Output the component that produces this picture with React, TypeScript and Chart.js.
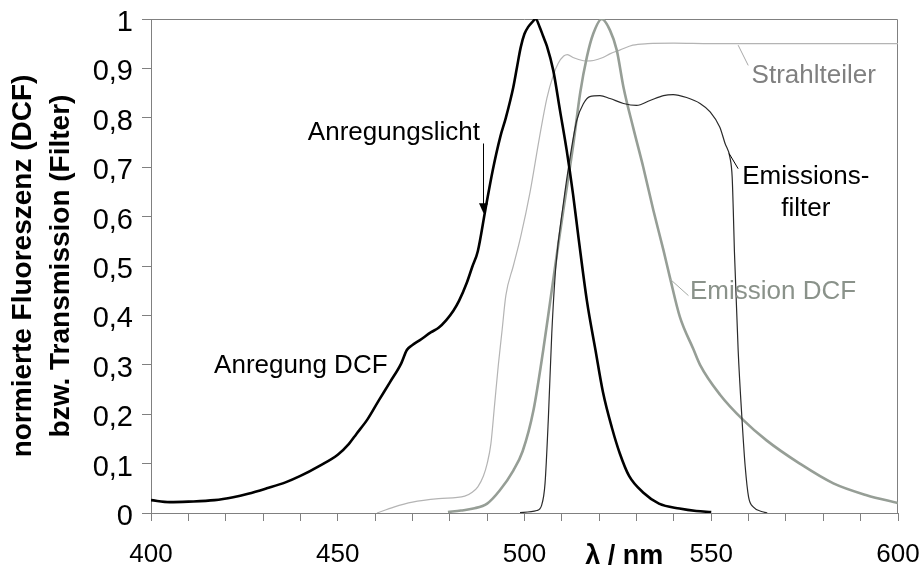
import React, { useEffect, useRef } from 'react';
import { Chart, registerables } from 'chart.js';

Chart.register(...registerables);

// ---------- data (wavelength in nm, normalised value) ----------
const excitationNm = [400, 405, 410, 417, 422, 426, 431, 436, 440, 445, 450, 453, 455, 458, 461, 464, 467, 468.5, 470, 472, 475, 477, 479, 481, 482.5, 484.5, 486, 487.5, 489.5, 491.5, 493.5, 495, 497, 498, 499, 500, 501, 502, 503, 504, 505, 506, 507.7, 509.5, 511.3, 513, 514.5, 516.7, 519, 521, 523.5, 525.5, 528, 532, 536, 541.5, 546, 550];
const excitationVal = [0.026, 0.022, 0.023, 0.026, 0.032, 0.039, 0.05, 0.062, 0.075, 0.095, 0.118, 0.14, 0.16, 0.19, 0.228, 0.265, 0.303, 0.33, 0.34, 0.35, 0.366, 0.375, 0.39, 0.41, 0.43, 0.465, 0.498, 0.53, 0.613, 0.694, 0.761, 0.8, 0.862, 0.903, 0.943, 0.97, 0.984, 0.993, 1.0, 0.985, 0.965, 0.945, 0.896, 0.815, 0.734, 0.645, 0.555, 0.43, 0.33, 0.245, 0.17, 0.121, 0.075, 0.04, 0.019, 0.009, 0.004, 0.002];

const splitterNm = [460.5, 465, 470, 477, 484, 486, 487.5, 489, 490, 491, 492, 493, 494, 495, 497, 499, 501.5, 504, 506, 507.7, 509, 510.5, 511.5, 513, 514.5, 516.5, 518.5, 521, 523, 525.5, 529, 533, 540, 550, 600];
const splitterVal = [0, 0.012, 0.022, 0.029, 0.034, 0.042, 0.053, 0.075, 0.1, 0.14, 0.22, 0.3, 0.37, 0.44, 0.5, 0.56, 0.65, 0.76, 0.84, 0.886, 0.91, 0.925, 0.928, 0.922, 0.918, 0.915, 0.916, 0.922, 0.93, 0.937, 0.947, 0.95, 0.951, 0.95, 0.95];

const emissionNm = [479.5, 483, 486.3, 490, 493.4, 497, 499.5, 502.4, 505, 506.8, 508.4, 510.4, 513.1, 514.9, 516.7, 518.4, 520.7, 522.9, 524.7, 526.5, 529.1, 531.8, 534.5, 537.2, 538.9, 541.6, 545.2, 547, 552.3, 558.6, 564.8, 573.7, 582.7, 591.6, 600];
const emissionVal = [0.002, 0.005, 0.009, 0.019, 0.046, 0.086, 0.125, 0.208, 0.329, 0.424, 0.51, 0.613, 0.748, 0.85, 0.923, 0.97, 1.0, 0.977, 0.937, 0.862, 0.78, 0.7, 0.613, 0.532, 0.478, 0.397, 0.332, 0.3, 0.24, 0.188, 0.147, 0.1, 0.06, 0.036, 0.02];

const filterNm = [498.8, 503.3, 504.6, 505.5, 506.4, 507.3, 508.4, 510.4, 512.2, 514, 515.8, 517.5, 520.2, 522.9, 526.5, 530, 533.6, 537.2, 539.8, 543.4, 547, 549.7, 552.3, 553.7, 555, 555.6, 555.9, 556.2, 557.2, 558.2, 559.1, 560, 561.3, 564, 565];
const filterVal = [0.001, 0.005, 0.016, 0.06, 0.194, 0.363, 0.5, 0.626, 0.72, 0.795, 0.829, 0.843, 0.845, 0.839, 0.829, 0.825, 0.835, 0.845, 0.847, 0.841, 0.829, 0.812, 0.781, 0.748, 0.72, 0.68, 0.613, 0.53, 0.33, 0.194, 0.093, 0.032, 0.012, 0.002, 0];

const xMin = 400;
const xMax = 600;
const xStep = 10;
const xLabelEvery = 50;
const yTitleLines = ['normierte Fluoreszenz (DCF)', 'bzw. Transmission (Filter)'];
const xTitle = 'λ / nm';
const xTitleAt = 526.7;

// annotation texts, anchored in data units
const annotationTexts = ['Anregungslicht', 'Anregung DCF', 'Strahlteiler', 'Emissions-', 'filter', 'Emission DCF'];
const annotationNm = [442.0, 416.9, 560.8, 575.3, 575.3, 544.3];
const annotationVal = [0.769, 0.297, 0.885, 0.68, 0.616, 0.447];
const annotationAlign = ['left', 'left', 'left', 'center', 'center', 'left'];
const annotationColor = ['#000000', '#000000', '#808080', '#000000', '#000000', '#8a928a'];

// leader lines [nm1, val1, nm2, val2]
const leaderLines = [
  [557.2, 0.947, 559.9, 0.906],
  [554.8, 0.7275, 557.2, 0.697],
  [538.9, 0.474, 543.9, 0.44],
];
const leaderColors = ['#a8a8a8', '#000000', '#a4aaa4'];
const laserNm = 489;
const laserArrowFrom = 0.748;
const laserArrowTo = 0.607;

const SANS = '"Liberation Sans", Arial, Helvetica, sans-serif';
const AXIS_COLOR = '#808080';

const toPoints = (xs: number[], ys: number[]) => xs.map((x, i) => ({ x, y: ys[i] }));

const zeroPadding = (s: any) => {
  s.paddingTop = 0;
  s.paddingBottom = 0;
  s.paddingLeft = 0;
  s.paddingRight = 0;
};

const overlayPlugin = {
  id: 'overlay',
  beforeDatasetsDraw(chart: any) {
    const { ctx, chartArea: a } = chart;
    ctx.save();
    ctx.strokeStyle = AXIS_COLOR;
    ctx.lineWidth = 1;
    const top = Math.round(a.top) + 0.5;
    const right = Math.round(a.right) - 0.5;
    ctx.beginPath();
    ctx.moveTo(a.left, top);
    ctx.lineTo(right, top);
    ctx.lineTo(right, a.bottom);
    ctx.stroke();
    ctx.restore();
  },
  afterDraw(chart: any) {
    const { ctx, chartArea: a, scales } = chart;
    const xs = scales.x;
    const ys = scales.y;
    ctx.save();
    // leader lines
    ctx.lineWidth = 1;
    leaderLines.forEach((l, i) => {
      ctx.strokeStyle = leaderColors[i];
      ctx.beginPath();
      ctx.moveTo(xs.getPixelForValue(l[0]), ys.getPixelForValue(l[1]));
      ctx.lineTo(xs.getPixelForValue(l[2]), ys.getPixelForValue(l[3]));
      ctx.stroke();
    });
    // laser arrow
    const ax = Math.round(xs.getPixelForValue(laserNm)) + 0.5;
    const ay1 = ys.getPixelForValue(laserArrowFrom);
    const ay2 = ys.getPixelForValue(laserArrowTo);
    ctx.strokeStyle = '#000';
    ctx.fillStyle = '#000';
    ctx.beginPath();
    ctx.moveTo(ax, ay1);
    ctx.lineTo(ax, ay2 - 8);
    ctx.stroke();
    ctx.beginPath();
    ctx.moveTo(ax - 4.5, ay2 - 10);
    ctx.lineTo(ax + 4.5, ay2 - 10);
    ctx.lineTo(ax, ay2);
    ctx.closePath();
    ctx.fill();
    // texts
    ctx.font = `26px ${SANS}`;
    ctx.textBaseline = 'middle';
    annotationTexts.forEach((t, i) => {
      ctx.fillStyle = annotationColor[i];
      ctx.textAlign = annotationAlign[i] as CanvasTextAlign;
      ctx.fillText(t, xs.getPixelForValue(annotationNm[i]), ys.getPixelForValue(annotationVal[i]));
    });
    // x axis title
    ctx.font = `bold 27px ${SANS}`;
    ctx.fillStyle = '#000';
    ctx.textAlign = 'center';
    ctx.textBaseline = 'alphabetic';
    ctx.fillText(xTitle, xs.getPixelForValue(xTitleAt), a.bottom + 50.5);
    ctx.restore();
  },
};

export default function App() {
  const ref = useRef<HTMLCanvasElement>(null);
  useEffect(() => {
    if (!ref.current) return;
    const chart = new Chart(ref.current, {
      type: 'line',
      data: {
        datasets: [
          {
            label: 'Anregung DCF',
            data: toPoints(excitationNm, excitationVal),
            borderColor: '#000000',
            borderWidth: 2.6,
            pointRadius: 0,
            cubicInterpolationMode: 'monotone',
          },
          {
            label: 'Emissionsfilter',
            data: toPoints(filterNm, filterVal),
            borderColor: '#2a2a2a',
            borderWidth: 1.2,
            pointRadius: 0,
            cubicInterpolationMode: 'monotone',
          },
          {
            label: 'Emission DCF',
            data: toPoints(emissionNm, emissionVal),
            borderColor: '#969e96',
            borderWidth: 2.6,
            pointRadius: 0,
            cubicInterpolationMode: 'monotone',
          },
          {
            label: 'Strahlteiler',
            data: toPoints(splitterNm, splitterVal),
            borderColor: '#b4b4b4',
            borderWidth: 1.2,
            pointRadius: 0,
            cubicInterpolationMode: 'monotone',
          },
        ],
      },
      options: {
        animation: false,
        responsive: true,
        maintainAspectRatio: false,
        parsing: false as any,
        layout: { padding: { top: 19, right: 23, left: 0, bottom: 0 } },
        plugins: {
          legend: { display: false },
          tooltip: { enabled: false },
        },
        scales: {
          x: {
            type: 'linear',
            min: xMin,
            max: xMax,
            afterFit: (s: any) => {
              s.height = 54;
              zeroPadding(s);
            },
            ticks: {
              stepSize: xStep,
              autoSkip: false,
              maxRotation: 0,
              padding: 18,
              color: '#000',
              font: { family: SANS, size: 26 },
              callback: (v: any) => (Number(v) % xLabelEvery === 0 ? String(v) : ''),
            },
            grid: {
              drawOnChartArea: false,
              drawTicks: true,
              tickLength: 8,
              color: AXIS_COLOR,
            },
            border: { display: true, color: AXIS_COLOR, width: 1 },
          },
          y: {
            type: 'linear',
            min: 0,
            max: 1,
            afterFit: (s: any) => {
              s.width = 151;
              zeroPadding(s);
            },
            ticks: {
              stepSize: 0.1,
              autoSkip: false,
              padding: 9,
              labelOffset: 4,
              color: '#000',
              font: { family: SANS, size: 29 },
              callback: (v: any) => {
                const n = Number(v);
                if (Math.abs(n) < 1e-9) return '0';
                if (Math.abs(n - 1) < 1e-9) return '1';
                return n.toFixed(1).replace('.', ',');
              },
            },
            grid: {
              drawOnChartArea: false,
              drawTicks: true,
              tickLength: 9,
              color: AXIS_COLOR,
            },
            border: { display: true, color: AXIS_COLOR, width: 1 },
            title: {
              display: true,
              text: yTitleLines,
              color: '#000',
              font: { family: SANS, size: 28, weight: 'bold', lineHeight: 1.36 },
              padding: { top: 4, bottom: 0 },
            },
          },
        },
      },
      plugins: [overlayPlugin],
    } as any);
    return () => chart.destroy();
  }, []);
  return (
    <div style={{ position: 'fixed', left: 0, top: 0, width: 921, height: 567, background: '#ffffff' }}>
      <canvas ref={ref} />
    </div>
  );
}
